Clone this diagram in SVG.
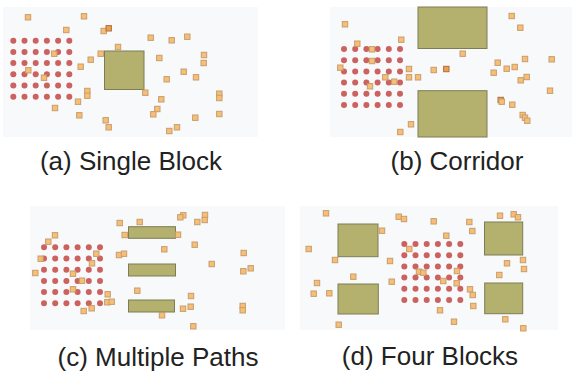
<svg xmlns="http://www.w3.org/2000/svg" xmlns:xlink="http://www.w3.org/1999/xlink" width="580" height="379" viewBox="0 0 580 379">
<style>
.bg{fill:#f8f9fb;stroke:none}
.blk{fill:#b4b06e;stroke:#7d7c55;stroke-width:1}
.dot{fill:#c8524f;opacity:0.9}
.sq{fill:#f8bb6c;stroke:#c49a6a;stroke-width:1;opacity:0.95}
.dk{fill:#ee9940;stroke:#a86a3a}
.lbl{font-family:"Liberation Sans",Arial,sans-serif;font-size:26px;fill:#222;text-anchor:middle}
</style>
<defs>
<rect id="s" x="-2.7" y="-2.7" width="5.4" height="5.4"/>
<circle id="d" r="3"/>
<g id="row6">
<use href="#d" x="0"/><use href="#d" x="11.2"/><use href="#d" x="22.4"/><use href="#d" x="33.6"/><use href="#d" x="44.8"/><use href="#d" x="56"/>
</g>
<g id="grid">
<use href="#row6" y="0"/><use href="#row6" y="11.2"/><use href="#row6" y="22.4"/><use href="#row6" y="33.6"/><use href="#row6" y="44.8"/><use href="#row6" y="56"/>
</g>
</defs>
<rect width="580" height="379" fill="#ffffff"/>

<g id="panel-a">
<rect class="bg" x="3" y="7" width="255" height="130"/>
<g class="dot"><use href="#grid" x="13.3" y="40.7"/></g>
<rect class="blk" x="104.5" y="51" width="39.5" height="38.5"/>
<g class="sq">
<use href="#s" x="28" y="17.3"/><use href="#s" x="84" y="16.3"/><use href="#s" x="66.3" y="30"/><use href="#s" x="103.7" y="31"/>
<use href="#s" x="108.7" y="28.3" class="dk"/><use href="#s" x="118" y="47"/><use href="#s" x="100.7" y="53.7"/><use href="#s" x="90.7" y="59.7"/>
<use href="#s" x="80.7" y="66.7"/><use href="#s" x="54.3" y="53.7"/><use href="#s" x="28.3" y="70.3"/><use href="#s" x="44" y="77.7"/>
<use href="#s" x="87.3" y="91"/><use href="#s" x="87.3" y="95.7"/><use href="#s" x="78" y="101.7"/><use href="#s" x="55" y="108"/>
<use href="#s" x="79.3" y="115.3"/><use href="#s" x="105.7" y="120.3"/><use href="#s" x="108.7" y="127.3"/>
<use href="#s" x="150.7" y="37.7"/><use href="#s" x="171.7" y="40.3"/><use href="#s" x="187.3" y="36.7"/><use href="#s" x="159.3" y="58"/>
<use href="#s" x="204" y="55"/><use href="#s" x="203.7" y="63"/><use href="#s" x="183.7" y="71.7"/><use href="#s" x="166.7" y="79.3"/>
<use href="#s" x="196" y="77.3"/><use href="#s" x="145.3" y="92.7"/><use href="#s" x="161.3" y="99.3"/><use href="#s" x="219.3" y="93.7"/>
<use href="#s" x="219.3" y="98"/><use href="#s" x="157.3" y="109"/><use href="#s" x="153.3" y="114.3"/><use href="#s" x="195.3" y="117.7"/>
<use href="#s" x="219.3" y="114"/><use href="#s" x="177" y="127.3"/><use href="#s" x="169.3" y="131"/>
</g>
<text class="lbl" x="131" y="170">(a) Single Block</text>
</g>

<g id="panel-b">
<rect class="bg" x="330" y="7" width="242" height="130"/>
<g class="dot"><use href="#grid" x="344" y="49"/></g>
<rect class="blk" x="418" y="7" width="69" height="41.5"/>
<rect class="blk" x="418" y="90.7" width="69" height="46.3"/>
<g class="sq">
<use href="#s" x="345" y="24.3"/><use href="#s" x="357.3" y="43.7"/><use href="#s" x="401.3" y="39.7"/><use href="#s" x="372" y="49.3"/>
<use href="#s" x="372" y="61"/><use href="#s" x="340.3" y="67.7"/><use href="#s" x="409" y="69"/><use href="#s" x="385.3" y="77.3"/>
<use href="#s" x="394.3" y="81.7"/><use href="#s" x="409" y="77.3"/><use href="#s" x="418" y="77.3"/><use href="#s" x="433.7" y="70"/>
<use href="#s" x="446.3" y="69" class="dk"/><use href="#s" x="370" y="86.3"/><use href="#s" x="411" y="124.3"/><use href="#s" x="400.3" y="132"/>
<use href="#s" x="511.7" y="16"/><use href="#s" x="520.3" y="27.7"/><use href="#s" x="462.7" y="53.7"/><use href="#s" x="497.7" y="62.7"/>
<use href="#s" x="506.7" y="68.7"/><use href="#s" x="514.7" y="67"/><use href="#s" x="525" y="59"/><use href="#s" x="551.7" y="59.3"/>
<use href="#s" x="493.7" y="72.7"/><use href="#s" x="520.7" y="80.3"/><use href="#s" x="526.7" y="77"/><use href="#s" x="550" y="90.7"/>
<use href="#s" x="500.7" y="100" class="dk"/><use href="#s" x="501.7" y="101.7"/><use href="#s" x="512.3" y="104.7"/><use href="#s" x="522.7" y="115"/>
<use href="#s" x="525" y="117.7"/><use href="#s" x="527.3" y="120.7"/>
</g>
<text class="lbl" x="457" y="170">(b) Corridor</text>
</g>

<g id="panel-c">
<rect class="bg" x="30" y="206" width="255" height="124"/>
<g class="dot"><use href="#grid" x="44" y="247.3"/></g>
<rect class="blk" x="128.5" y="226.7" width="47" height="11.6"/>
<rect class="blk" x="128.5" y="264" width="47" height="12"/>
<rect class="blk" x="128.5" y="300" width="46" height="12"/>
<g class="sq">
<use href="#s" x="119.7" y="223"/><use href="#s" x="139.7" y="222"/><use href="#s" x="124.7" y="235"/><use href="#s" x="55" y="235.3"/>
<use href="#s" x="48.3" y="241.7"/><use href="#s" x="96.3" y="253.7"/><use href="#s" x="92" y="263.3"/><use href="#s" x="40.7" y="258.7"/>
<use href="#s" x="35.3" y="273"/><use href="#s" x="119" y="255"/><use href="#s" x="124" y="253.7"/><use href="#s" x="73" y="273.7"/>
<use href="#s" x="82" y="280.7"/><use href="#s" x="73" y="289.3"/><use href="#s" x="137.3" y="290.7"/><use href="#s" x="107.7" y="294.3"/>
<use href="#s" x="107.3" y="302.3"/><use href="#s" x="111.7" y="301.7"/><use href="#s" x="91.7" y="308.3"/><use href="#s" x="83.7" y="311"/>
<use href="#s" x="162" y="315.3"/>
<use href="#s" x="183.3" y="215.3"/><use href="#s" x="180.3" y="217.3"/><use href="#s" x="205" y="215"/><use href="#s" x="204.7" y="220"/>
<use href="#s" x="197.3" y="222"/><use href="#s" x="178" y="234.7"/><use href="#s" x="194.7" y="244.7"/><use href="#s" x="164.3" y="249.3"/>
<use href="#s" x="243.7" y="253"/><use href="#s" x="211.7" y="264"/><use href="#s" x="243.3" y="271.3"/><use href="#s" x="250.7" y="268.3"/>
<use href="#s" x="191" y="296"/><use href="#s" x="183" y="308.7"/><use href="#s" x="190.7" y="306.7"/><use href="#s" x="242.7" y="306"/>
<use href="#s" x="242.7" y="310.3"/><use href="#s" x="193.3" y="326.3"/>
</g>
<text class="lbl" x="158" y="366">(c) Multiple Paths</text>
</g>

<g id="panel-d">
<rect class="bg" x="300" y="206" width="258" height="124"/>
<g class="dot"><use href="#grid" x="404.3" y="244"/></g>
<rect class="blk" x="338" y="224" width="40" height="32.7"/>
<rect class="blk" x="338" y="284" width="40.3" height="30"/>
<rect class="blk" x="484.5" y="222" width="38.2" height="33"/>
<rect class="blk" x="484.7" y="283" width="38" height="30.7"/>
<g class="sq">
<use href="#s" x="326" y="213.3"/><use href="#s" x="398.7" y="216.7"/><use href="#s" x="404" y="219"/><use href="#s" x="433.7" y="221.3"/>
<use href="#s" x="382" y="230.7"/><use href="#s" x="308.7" y="249"/><use href="#s" x="409.3" y="249"/><use href="#s" x="335" y="260"/>
<use href="#s" x="390" y="261"/><use href="#s" x="419" y="271.7"/><use href="#s" x="423.3" y="272.7"/><use href="#s" x="353.3" y="276.7"/>
<use href="#s" x="391.7" y="281.7"/><use href="#s" x="317" y="283"/><use href="#s" x="313.7" y="293.7"/><use href="#s" x="329.3" y="293.3"/>
<use href="#s" x="338.7" y="324.7"/>
<use href="#s" x="469.3" y="222"/><use href="#s" x="472.3" y="231"/><use href="#s" x="446.3" y="235.7"/><use href="#s" x="500" y="215.7"/>
<use href="#s" x="513.7" y="214.3"/><use href="#s" x="518" y="217.3"/><use href="#s" x="507" y="263.3"/><use href="#s" x="523" y="260"/>
<use href="#s" x="524" y="269"/><use href="#s" x="499.3" y="275"/><use href="#s" x="457" y="271"/><use href="#s" x="443.3" y="281"/>
<use href="#s" x="456.7" y="283.3"/><use href="#s" x="470" y="289.3"/><use href="#s" x="472.7" y="295"/><use href="#s" x="473.3" y="306"/>
<use href="#s" x="440" y="310.3"/><use href="#s" x="454" y="321.7"/><use href="#s" x="505.3" y="319.3"/><use href="#s" x="523.3" y="328.3"/>
</g>
<text class="lbl" x="430" y="365">(d) Four Blocks</text>
</g>
</svg>
